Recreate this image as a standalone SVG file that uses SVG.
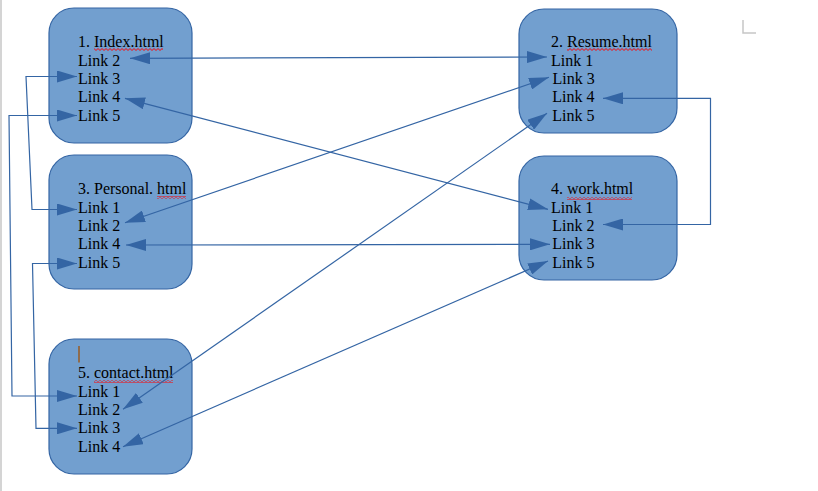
<svg xmlns="http://www.w3.org/2000/svg" width="818" height="491" viewBox="0 0 818 491">
<style>
.box{fill:#729fcf;stroke:#3465a4;stroke-width:1.2}
.t{font-family:"Liberation Serif","Times New Roman",serif;font-size:16px;fill:#000}
.c{fill:none;stroke:#3465a4;stroke-width:1.2;marker-start:url(#ah);marker-end:url(#ah)}
.mark{fill:none;stroke:#c6c6c6;stroke-width:1.5}
</style>
<defs>
<marker id="ah" markerUnits="userSpaceOnUse" markerWidth="20" markerHeight="12" refX="20" refY="6" orient="auto-start-reverse">
<path d="M0,0 L20,6 L0,12 z" fill="#3465a4"/>
</marker>
<pattern id="wave" patternUnits="userSpaceOnUse" width="4" height="3">
<path d="M-1,1.5 L0,2.5 L2,0.5 L4,2.5 L5,1.5" fill="none" stroke="#ff0000" stroke-width="1"/>
</pattern>
</defs>
<rect x="0" y="0" width="2" height="491" fill="#d4d4d4"/>
<path class="mark" d="M64,33 H77 V20"/>
<path class="mark" d="M743,20 V33 H756"/>

<g id="node-index">
<rect class="box" x="49" y="8" width="143" height="135" rx="25"/>
<text class="t" x="78" y="47.3">1. Index.html</text>
<text class="t" x="78" y="65.7">Link 2</text>
<text class="t" x="78" y="84">Link 3</text>
<text class="t" x="78" y="102.3">Link 4</text>
<text class="t" x="78" y="120.7">Link 5</text>
<rect x="94" y="48" width="69" height="3" fill="url(#wave)"/>
</g>

<g id="node-personal">
<rect class="box" x="49" y="155" width="143" height="134" rx="25"/>
<text class="t" x="78" y="194.3">3. Personal. html</text>
<text class="t" x="78" y="212.7">Link 1</text>
<text class="t" x="78" y="231">Link 2</text>
<text class="t" x="78" y="249.3">Link 4</text>
<text class="t" x="78" y="267.7">Link 5</text>
<rect x="157" y="196" width="29" height="3" fill="url(#wave)"/>
</g>

<g id="node-contact">
<rect class="box" x="49" y="339" width="143" height="135" rx="25"/>
<line x1="79" y1="346" x2="79" y2="362.5" stroke="#9a5b22" stroke-width="1.5"/>
<text class="t" x="78" y="378.3">5. contact.html</text>
<text class="t" x="78" y="396.7">Link 1</text>
<text class="t" x="78" y="415">Link 2</text>
<text class="t" x="78" y="433.3">Link 3</text>
<text class="t" x="78" y="451.7">Link 4</text>
<rect x="94" y="380" width="79" height="3" fill="url(#wave)"/>
</g>

<g id="node-resume">
<rect class="box" x="519" y="9" width="158" height="124" rx="25"/>
<text class="t" x="551" y="47.3">2. Resume.html</text>
<text class="t" x="551" y="65.7">Link 1</text>
<text class="t" x="552.5" y="84">Link 3</text>
<text class="t" x="552.3" y="102.3">Link 4</text>
<text class="t" x="552.3" y="120.7">Link 5</text>
<rect x="567" y="48" width="85" height="3" fill="url(#wave)"/>
</g>

<g id="node-work">
<rect class="box" x="519" y="156" width="158" height="124" rx="25"/>
<text class="t" x="551" y="194.3">4. work.html</text>
<text class="t" x="551" y="212.7">Link 1</text>
<text class="t" x="552.3" y="231">Link 2</text>
<text class="t" x="552.3" y="249.3">Link 3</text>
<text class="t" x="552.3" y="267.7">Link 5</text>
<rect x="567" y="197" width="65" height="3" fill="url(#wave)"/>
</g>

<g id="connectors">
<path class="c" d="M130,58.3 L547,57"/>
<path class="c" d="M125,98.3 L548,209.3"/>
<path class="c" d="M125,222.7 L549,77.3"/>
<path class="c" d="M126,245 L550,244.3"/>
<path class="c" d="M123,409.3 L547,113.3"/>
<path class="c" d="M123,446.7 L548,261"/>
<path class="c" d="M77,76.5 H26 L32,209.5 H77"/>
<path class="c" d="M77,115.5 H9 L12,396 H77"/>
<path class="c" d="M77,263.5 H32.5 L36,428.3 H77"/>
<path class="c" d="M603,98.3 H710.5 V224.5 H603"/>
</g>
</svg>
